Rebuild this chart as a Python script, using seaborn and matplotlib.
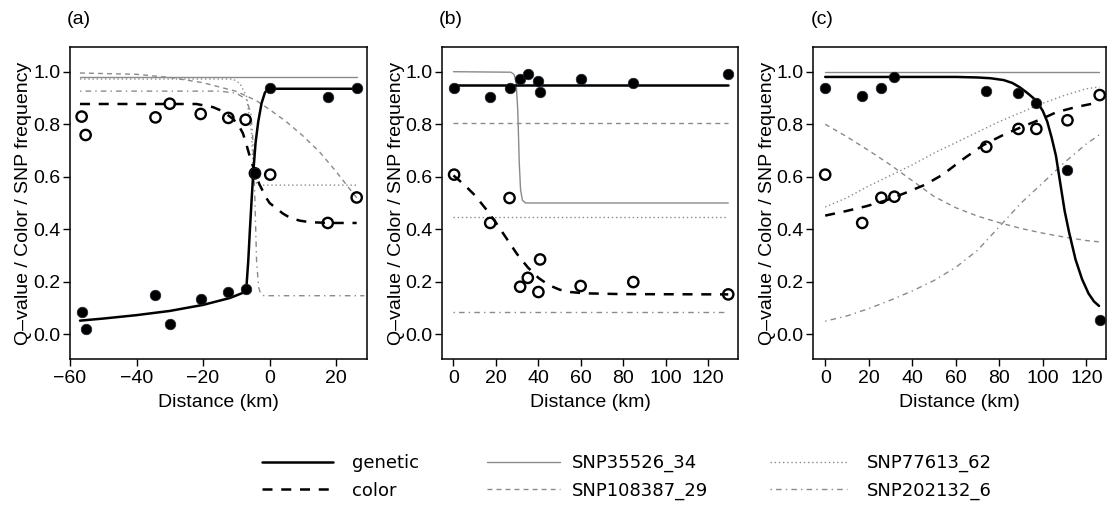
import matplotlib
matplotlib.use("Agg")
import matplotlib.pyplot as plt
from matplotlib.lines import Line2D
import seaborn as sns

# ---------------- panel (a) ----------------
sites_a = [-56.5, -55.3, -34.3, -30.0, -20.7, -12.4, -7.2, -4.4, 0.2, 17.5, 26.2]
genetic_obs_a = [0.085, 0.019, 0.148, 0.038, 0.135, 0.163, 0.173, 0.613, 0.938, 0.905, 0.938]
color_obs_a = [0.829, 0.759, 0.826, 0.878, 0.839, 0.824, 0.817, 0.613, 0.608, 0.424, 0.521]

genetic_fit_a_x = [-57, -50, -40, -30, -20, -12, -8, -7, -6.4, -5.9, -5.4, -4.9, -4.2, -3.4, -2.4, -1.4, -0.5, 26.2]
genetic_fit_a_y = [0.052, 0.06, 0.073, 0.089, 0.112, 0.138, 0.158, 0.172, 0.28, 0.40, 0.51, 0.615, 0.73, 0.81, 0.88, 0.92, 0.935, 0.935]
color_fit_a_x = [-57, -22, -17, -14, -11, -9.4, -8, -6.9, -6, -5, -4, -3, -2, -1, 0, 1, 2.5, 4, 6, 9, 12, 18, 26.2]
color_fit_a_y = [0.877, 0.877, 0.865, 0.849, 0.82, 0.798, 0.765, 0.72, 0.68, 0.64, 0.60, 0.57, 0.545, 0.52, 0.50, 0.49, 0.475, 0.46, 0.445, 0.433, 0.427, 0.424, 0.424]
snp35526_a_x = [-57, 26.2]
snp35526_a_y = [0.979, 0.979]
snp108387_a_x = [-57, -40, -30, -20, -10, -4, 0, 5, 10, 15, 20, 24, 26.2]
snp108387_a_y = [0.995, 0.99, 0.978, 0.958, 0.925, 0.89, 0.856, 0.81, 0.756, 0.695, 0.62, 0.555, 0.52]
snp77613_a_x = [-57, -11, -8.9, -6.9, -5.4, -4.9, -4.2, -3.4, 26.2]
snp77613_a_y = [0.972, 0.972, 0.955, 0.905, 0.766, 0.62, 0.58, 0.568, 0.568]
snp202132_a_x = [-57, -15, -10, -7, -5.6, -5.0, -4.4, -3.9, -3.3, -2.7, -1.7, 28.5]
snp202132_a_y = [0.926, 0.926, 0.918, 0.895, 0.84, 0.74, 0.51, 0.28, 0.18, 0.155, 0.147, 0.147]

# ---------------- panel (b) ----------------
sites_b = [0.3, 17.3, 26.4, 31.4, 35.0, 40.0, 40.8, 59.9, 84.7, 129.4]
genetic_obs_b = [0.937, 0.905, 0.937, 0.972, 0.991, 0.966, 0.924, 0.972, 0.958, 0.991]
color_obs_b = [0.608, 0.424, 0.519, 0.181, 0.215, 0.161, 0.285, 0.184, 0.199, 0.152]

genetic_fit_b_x = [0, 129.4]
genetic_fit_b_y = [0.949, 0.949]
color_fit_b_x = [0, 5, 10, 15, 20, 25, 30, 35, 40, 45, 50, 55, 62, 80, 129.4]
color_fit_b_y = [0.605, 0.57, 0.53, 0.48, 0.425, 0.365, 0.305, 0.255, 0.215, 0.187, 0.17, 0.161, 0.156, 0.153, 0.152]
snp35526_b_x = [0, 27, 28.5, 29.5, 30.3, 31, 31.6, 32.5, 34, 129.4]
snp35526_b_y = [1.0, 0.998, 0.99, 0.96, 0.85, 0.65, 0.55, 0.51, 0.5, 0.5]
snp108387_b_x = [0, 129.4]
snp108387_b_y = [0.806, 0.806]
snp77613_b_x = [0, 129.4]
snp77613_b_y = [0.447, 0.447]
snp202132_b_x = [0, 129.4]
snp202132_b_y = [0.085, 0.085]

# ---------------- panel (c) ----------------
sites_c = [0, 17, 25.8, 31.8, 74, 88.8, 97, 111.3, 126.1]
genetic_obs_c = [0.938, 0.906, 0.938, 0.98, 0.928, 0.919, 0.881, 0.625, 0.054]
color_obs_c = [0.608, 0.424, 0.52, 0.524, 0.714, 0.782, 0.782, 0.815, 0.911]

genetic_fit_c_x = [0, 60, 70, 76, 82, 86, 89.5, 93, 97, 100, 102, 104, 106, 108, 110, 112, 115, 118, 121, 123.5, 125.8]
genetic_fit_c_y = [0.98, 0.98, 0.978, 0.975, 0.968, 0.957, 0.94, 0.918, 0.89, 0.85, 0.81, 0.75, 0.68, 0.575, 0.47, 0.39, 0.285, 0.21, 0.155, 0.125, 0.108]
color_fit_c_x = [0, 10, 19, 28, 37, 46, 54, 63, 72.5, 82, 91, 100, 106, 115, 125]
color_fit_c_y = [0.452, 0.47, 0.488, 0.51, 0.539, 0.57, 0.608, 0.665, 0.72, 0.76, 0.792, 0.822, 0.845, 0.865, 0.882]
snp35526_c_x = [0, 126]
snp35526_c_y = [1.0, 1.0]
snp108387_c_x = [0, 10, 20, 30, 40, 50, 60, 70, 80, 90, 100, 110, 120, 126]
snp108387_c_y = [0.80, 0.752, 0.70, 0.645, 0.585, 0.525, 0.482, 0.45, 0.425, 0.403, 0.385, 0.37, 0.357, 0.352]
snp77613_c_x = [0, 10, 20, 30, 40, 50, 60, 70, 80, 90, 100, 110, 120, 126]
snp77613_c_y = [0.485, 0.52, 0.565, 0.605, 0.645, 0.69, 0.73, 0.77, 0.81, 0.845, 0.88, 0.91, 0.935, 0.942]
snp202132_c_x = [0, 10, 20, 30, 40, 50, 60, 70, 80, 90, 100, 110, 120, 126]
snp202132_c_y = [0.05, 0.07, 0.098, 0.13, 0.165, 0.205, 0.255, 0.32, 0.41, 0.5, 0.577, 0.655, 0.725, 0.76]

panel_labels = ["(a)", "(b)", "(c)"]
xticks_a = [-60, -40, -20, 0, 20]
xticks_bc = [0, 20, 40, 60, 80, 100, 120]
yticks = [0.0, 0.2, 0.4, 0.6, 0.8, 1.0]
legend_names = ["genetic", "color", "SNP35526_34", "SNP108387_29", "SNP77613_62", "SNP202132_6"]

sns.set_theme(style="ticks", rc={"axes.edgecolor": "black", "xtick.color": "black",
                                 "ytick.color": "black", "text.color": "black",
                                 "axes.labelcolor": "black"})
plt.rcParams["font.family"] = ["Liberation Sans", "DejaVu Sans"]

GRAY = "#8a8a8a"
styles = {
    "genetic": dict(color="black", lw=1.8, linestyle="-"),
    "color": dict(color="black", lw=1.8, linestyle=(0, (4, 3.5))),
    "SNP35526_34": dict(color=GRAY, lw=1.0, linestyle="-"),
    "SNP108387_29": dict(color=GRAY, lw=1.0, linestyle=(0, (3.5, 3))),
    "SNP77613_62": dict(color=GRAY, lw=1.0, linestyle=(0, (1, 2))),
    "SNP202132_6": dict(color=GRAY, lw=1.0, linestyle=(0, (1, 3, 4, 3))),
}

fig = plt.figure(figsize=(11.08, 5.07), dpi=100)
W, H = 1108, 507
boxes = [(70, 367), (442, 738), (813, 1106)]
top, bottom = 47, 359

panels = [
    dict(sites=sites_a, gen=genetic_obs_a, col=color_obs_a, xlim=(-60, 29.3), xticks=xticks_a,
         lines=[("SNP35526_34", snp35526_a_x, snp35526_a_y), ("SNP108387_29", snp108387_a_x, snp108387_a_y),
                ("SNP77613_62", snp77613_a_x, snp77613_a_y), ("SNP202132_6", snp202132_a_x, snp202132_a_y),
                ("color", color_fit_a_x, color_fit_a_y), ("genetic", genetic_fit_a_x, genetic_fit_a_y)]),
    dict(sites=sites_b, gen=genetic_obs_b, col=color_obs_b, xlim=(-5.4, 134), xticks=xticks_bc,
         lines=[("SNP35526_34", snp35526_b_x, snp35526_b_y), ("SNP108387_29", snp108387_b_x, snp108387_b_y),
                ("SNP77613_62", snp77613_b_x, snp77613_b_y), ("SNP202132_6", snp202132_b_x, snp202132_b_y),
                ("color", color_fit_b_x, color_fit_b_y), ("genetic", genetic_fit_b_x, genetic_fit_b_y)]),
    dict(sites=sites_c, gen=genetic_obs_c, col=color_obs_c, xlim=(-5.6, 129), xticks=xticks_bc,
         lines=[("SNP35526_34", snp35526_c_x, snp35526_c_y), ("SNP108387_29", snp108387_c_x, snp108387_c_y),
                ("SNP77613_62", snp77613_c_x, snp77613_c_y), ("SNP202132_6", snp202132_c_x, snp202132_c_y),
                ("color", color_fit_c_x, color_fit_c_y), ("genetic", genetic_fit_c_x, genetic_fit_c_y)]),
]

for i, p in enumerate(panels):
    l, r = boxes[i]
    ax = fig.add_axes([l / W, 1 - bottom / H, (r - l) / W, (bottom - top) / H])
    for name, xs, ys in p["lines"]:
        sns.lineplot(x=xs, y=ys, ax=ax, sort=False, estimator=None, **styles[name])
    sns.scatterplot(x=p["sites"], y=p["col"], ax=ax, s=55, facecolor="none",
                    edgecolor="black", linewidth=1.7, zorder=5)
    sns.scatterplot(x=p["sites"], y=p["gen"], ax=ax, s=58, color="black",
                    edgecolor="#1c2530", linewidth=0.5, zorder=6)
    ax.set_xlim(*p["xlim"])
    ax.set_ylim(-0.094, 1.094)
    ax.set_xticks(p["xticks"])
    ax.set_yticks(yticks)
    ax.set_yticklabels([f"{v:.1f}" for v in yticks])
    ax.tick_params(length=5, width=1, direction="out", labelsize=14)
    ax.tick_params(axis="y", pad=2)
    ax.tick_params(axis="x", pad=3)
    for s in ax.spines.values():
        s.set_visible(True)
        s.set_linewidth(1.1)
        s.set_color("black")
    ax.set_xlabel("Distance (km)", fontsize=14)
    ax.set_ylabel("Q\u2013value / Color / SNP frequency", fontsize=14)
    ax.xaxis.set_label_coords(0.5, -0.141)
    ax.xaxis.label.set_va("center")
    ax.yaxis.set_label_coords(-0.155, 0.5)
    ax.yaxis.label.set_va("center")
    fig.text((l + 9) / W, 1 - 19 / H, panel_labels[i], fontsize=14, ha="center", va="center")

# legend: three columns placed one by one
fs = 13
col_specs = [(262, 3.93, 1.05), (487, 4.04, 0.67), (770, 4.27, 1.1)]
for k, (x0, hl, tp) in enumerate(col_specs):
    names = legend_names[2 * k:2 * k + 2]
    handles = [Line2D([0], [0], **styles[n]) for n in names]
    fig.legend(handles, names, loc="center left", bbox_to_anchor=(x0 / W, 1 - 477 / H),
               frameon=False, handlelength=hl, handletextpad=tp, borderpad=0, borderaxespad=0,
               labelspacing=0.5, prop={"family": "DejaVu Sans", "size": fs})

fig.savefig("out.png", dpi=100, facecolor="white")
